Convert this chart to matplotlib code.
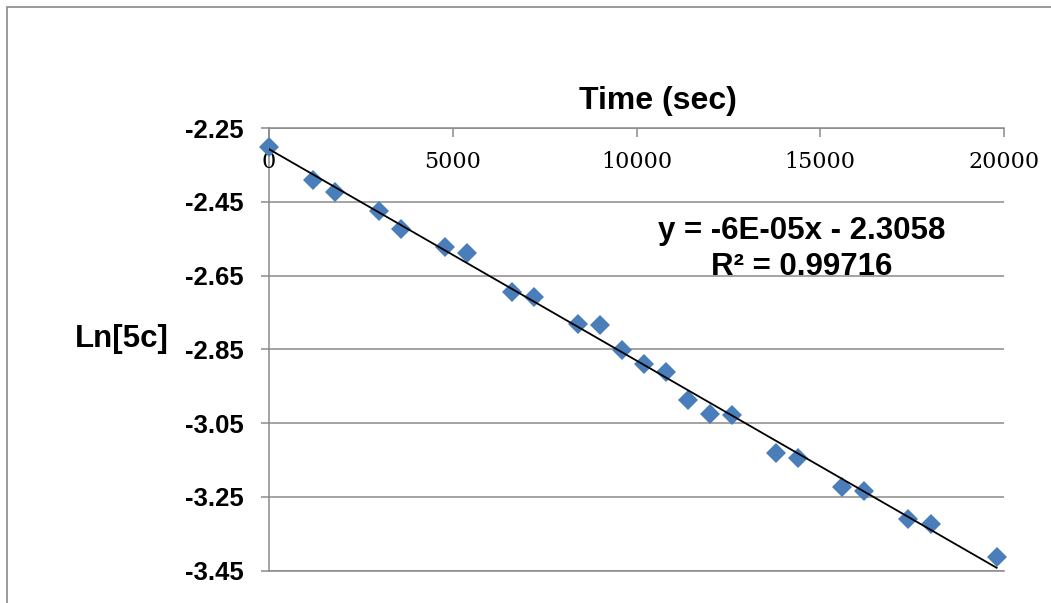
import numpy as np
import matplotlib
matplotlib.use("Agg")
import matplotlib.pyplot as plt
from matplotlib.patches import Rectangle
from matplotlib.transforms import ScaledTranslation

# Sampling times (s) and ln of concentration
time_s = [0, 1200, 1800, 3000, 3600, 4800, 5400, 6600, 7200, 8400, 9000, 9600,
          10200, 10800, 11400, 12000, 12600, 13800, 14400, 15600, 16200, 17400,
          18000, 19800]
ln_conc = [-2.302, -2.391, -2.423, -2.476, -2.525, -2.573, -2.588, -2.694,
           -2.708, -2.782, -2.784, -2.852, -2.891, -2.911, -2.987, -3.024,
           -3.028, -3.132, -3.145, -3.222, -3.233, -3.311, -3.324, -3.412]

x_ticks = [0, 5000, 10000, 15000, 20000]
y_ticks = [-2.25, -2.45, -2.65, -2.85, -3.05, -3.25, -3.45]

eq_label = "y = -6E-05x - 2.3058"
r2_label = "R\u00b2 = 0.99716"

W, H = 1051, 603
fig = plt.figure(figsize=(W / 100, H / 100), dpi=100)
fig.patch.set_facecolor("white")

def fx(px):
    return px / W

def fy(py):
    return 1 - py / H

ax = fig.add_axes([fx(269), fy(570.7), fx(1004) - fx(269), fy(128) - fy(570.7)])
ax.set_xlim(0, 20000)
ax.set_ylim(-3.45, -2.25)

grey = "#8a8a8a"
sans = ["Liberation Sans", "DejaVu Sans"]
serif = ["DejaVu Serif", "Liberation Serif"]

# Gridlines and axes
ax.set_yticks(y_ticks)
ax.set_yticklabels([f"{v:.2f}" for v in y_ticks], fontfamily=sans,
                   fontweight="bold", fontsize=18.5)
ax.yaxis.grid(True, color=grey, linewidth=1.1)
ax.set_axisbelow(True)
ax.tick_params(axis="y", direction="out", length=6, width=1.1, color=grey,
               pad=12)

ax.set_xticks(x_ticks)
ax.tick_params(axis="x", top=True, bottom=False, labelbottom=False,
               labeltop=False, direction="in", length=6.5, width=1.1,
               color=grey)
ax.spines["right"].set_visible(False)
for s in ["left", "top", "bottom"]:
    ax.spines[s].set_color(grey)
    ax.spines[s].set_linewidth(1.1)

# x tick labels sit just below the top axis line
off = ScaledTranslation(0, -0.345, fig.dpi_scale_trans)
for xv in x_ticks:
    ax.text(xv, 1.0, str(xv), transform=ax.get_xaxis_transform() + off,
            ha="center", va="center", fontfamily=serif, fontsize=16)

# Data points
ax.plot(time_s, ln_conc, linestyle="none", marker="D", markersize=10.5,
        color="#4a7ebb", markeredgewidth=0, zorder=3, clip_on=False)

# Least-squares trend line over the data range
slope, intercept = np.polyfit(time_s, ln_conc, 1)
xs = np.array([min(time_s), max(time_s)])
ax.plot(xs, slope * xs + intercept, color="black", linewidth=1.3, zorder=4)

ax.text(fx(802), fy(231), eq_label, transform=fig.transFigure, ha="center",
        va="center", fontfamily=sans, fontweight="bold", fontsize=22.5,
        zorder=5)
ax.text(fx(802), fy(267), r2_label, transform=fig.transFigure, ha="center",
        va="center", fontfamily=sans, fontweight="bold", fontsize=22.5,
        zorder=5)

# Axis titles
fig.text(fx(658), fy(101), "Time (sec)", ha="center", va="center",
         fontfamily=sans, fontweight="bold", fontsize=23)
fig.text(fx(122), fy(339), "Ln[5c]", ha="center", va="center",
         fontfamily=sans, fontweight="bold", fontsize=22.5)

# Chart-area border
fig.patches.append(Rectangle((fx(7), -0.2), 2, fy(7) + 0.2,
                             transform=fig.transFigure, fill=False,
                             edgecolor=grey, linewidth=1.2))

fig.savefig("out.png", dpi=100, facecolor="white")
